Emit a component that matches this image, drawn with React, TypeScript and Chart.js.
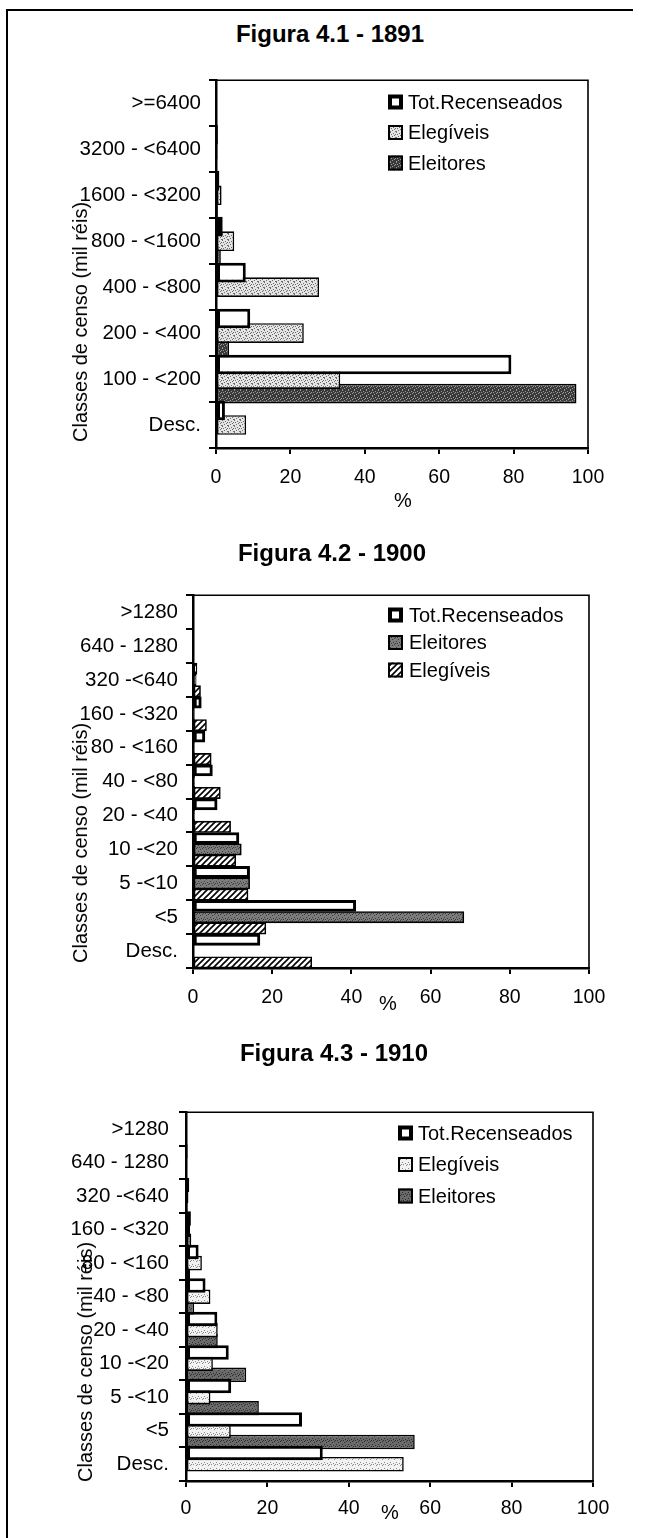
import { useEffect, useRef } from "react";
import { Chart, registerables } from "chart.js";

Chart.register(...registerables);

const FONT = '"Liberation Sans", Arial, Helvetica, sans-serif';

// Percentage axis ticks shared by the three figures
const pctTicks = [0, 20, 40, 60, 80, 100];

// Figura 4.1 - 1891
const classes1891 = [">=6400", "3200 - <6400", "1600 - <3200", "800 - <1600", "400 - <800", "200 - <400", "100 - <200", "Desc."];
const totRecenseados1891 = [0.2, 0.5, 0.9, 1.8, 8.0, 9.2, 79.4, 2.4];
const elegiveis1891 = [0.1, 0.4, 1.5, 4.9, 27.7, 23.6, 33.4, 8.1];
const eleitores1891 = [0, 0, 0.5, 1.3, 0.3, 3.5, 96.9, 0];

// Figura 4.2 - 1900
const classes1900 = [">1280", "640 - 1280", "320 -<640", "160 - <320", "80 - <160", "40 - <80", "20 - <40", "10 -<20", "5 -<10", "<5", "Desc."];
const totRecenseados1900 = [0, 0, 1.0, 2.1, 3.0, 4.9, 6.1, 11.6, 14.3, 41.1, 16.9];
const eleitores1900 = [0, 0, 0.8, 0.2, 0.3, 0.4, 0.4, 12.2, 14.3, 68.4, 0];
const elegiveis1900 = [0, 0, 1.9, 3.4, 4.6, 6.9, 9.5, 10.8, 13.9, 18.4, 30.0];

// Figura 4.3 - 1910
const classes1910 = [">1280", "640 - 1280", "320 -<640", "160 - <320", "80 - <160", "40 - <80", "20 - <40", "10 -<20", "5 -<10", "<5", "Desc."];
const totRecenseados1910 = [0.2, 0.4, 0.8, 1.2, 3.1, 4.8, 7.7, 10.5, 11.1, 28.5, 33.6];
const elegiveis1910 = [0.1, 0.3, 0.6, 1.0, 3.9, 6.0, 7.8, 6.6, 6.0, 11.0, 53.5];
const eleitores1910 = [0, 0.1, 0.4, 1.3, 1.0, 2.0, 7.8, 14.8, 17.9, 56.2, 0];

// ---- fill patterns -------------------------------------------------------
const DOTS: [number, number][] = [
  [0, 0], [3, 1], [1, 2], [5, 2], [4, 3], [2, 4], [0, 5], [5, 5], [3, 0], [1, 4],
];

function stipple(base: string, dot: string, count: number): CanvasPattern | string {
  const c = document.createElement("canvas");
  c.width = 6;
  c.height = 6;
  const g = c.getContext("2d");
  if (!g) return base;
  g.fillStyle = base;
  g.fillRect(0, 0, 6, 6);
  g.fillStyle = dot;
  DOTS.slice(0, count).forEach(([x, y]) => g.fillRect(x, y, 1, 1));
  return g.createPattern(c, "repeat") || base;
}

function hatch(): CanvasPattern | string {
  const s = 6;
  const c = document.createElement("canvas");
  c.width = s;
  c.height = s;
  const g = c.getContext("2d");
  if (!g) return "#aaa";
  g.fillStyle = "#fff";
  g.fillRect(0, 0, s, s);
  g.strokeStyle = "#000";
  g.lineWidth = 1.6;
  g.beginPath();
  g.moveTo(-1, s + 1);
  g.lineTo(s + 1, -1);
  g.moveTo(-1, 1);
  g.lineTo(1, -1);
  g.moveTo(s - 1, s + 1);
  g.lineTo(s + 1, s - 1);
  g.stroke();
  return g.createPattern(c, "repeat") || "#aaa";
}

// ---- plugins -------------------------------------------------------------
const framePlugin = {
  id: "frame",
  afterDraw(chart: any) {
    const { ctx, chartArea: a } = chart;
    ctx.save();
    ctx.strokeStyle = "#000";
    ctx.lineWidth = 1.6;
    ctx.beginPath();
    ctx.moveTo(a.left, a.top);
    ctx.lineTo(a.right, a.top);
    ctx.lineTo(a.right, a.bottom);
    ctx.stroke();
    ctx.restore();
  },
};

const boxLegendPlugin = {
  id: "boxLegend",
  afterDraw(chart: any, _args: any, opts: any) {
    const { ctx } = chart;
    ctx.save();
    ctx.font = `${opts.fontSize}px ${FONT}`;
    ctx.textBaseline = "middle";
    ctx.fillStyle = "#000";
    chart.data.datasets.forEach((ds: any, i: number) => {
      const cy = opts.y + i * opts.row;
      const b = opts.box;
      const x = opts.x;
      ctx.fillStyle = ds.backgroundColor;
      ctx.fillRect(x, cy - b / 2, b, b);
      const lw = ds.legendBorder;
      ctx.lineWidth = lw;
      ctx.strokeStyle = "#000";
      ctx.strokeRect(x + lw / 2, cy - b / 2 + lw / 2, b - lw, b - lw);
      ctx.fillStyle = "#000";
      ctx.fillText(ds.label, x + b + opts.gap, cy + 1);
    });
    ctx.restore();
  },
};

// ---- panel ---------------------------------------------------------------
type Series = { label: string; data: number[]; fill: () => CanvasPattern | string; bw: number; lb: number };

type Panel = {
  title: string;
  titleX: number;
  titleY: number;
  canvasTop: number;
  canvasHeight: number;
  plotLeft: number;
  plotRight: number;
  plotTop: number;
  plotBottom: number;
  labels: string[];
  series: Series[];
  barPct: number;
  catPct: number;
  yPad: number;
  xPad: number;
  legendX: number;
  legendY: number;
  legendRow: number;
  legendGap: number;
  yTitleX: number;
  yTitleY: number;
  pctX: number;
  pctY: number;
};

const W = 647;

const panels: Panel[] = [
  {
    title: "Figura 4.1 - 1891",
    titleX: 330,
    titleY: 34,
    canvasTop: 60,
    canvasHeight: 460,
    plotLeft: 216,
    plotRight: 588,
    plotTop: 80,
    plotBottom: 448,
    labels: classes1891,
    series: [
      { label: "Tot.Recenseados", data: totRecenseados1891, fill: () => "#ffffff", bw: 3, lb: 4 },
      { label: "Elegíveis", data: elegiveis1891, fill: () => stipple("#e4e4e4", "#6e6e6e", 8), bw: 1.6, lb: 2 },
      { label: "Eleitores", data: eleitores1891, fill: () => stipple("#3a3a3a", "#9a9a9a", 7), bw: 1.6, lb: 2 },
    ],
    barPct: 1.35,
    catPct: 0.95,
    yPad: 8,
    xPad: 12,
    legendX: 388,
    legendY: 102,
    legendRow: 30.5,
    legendGap: 5,
    yTitleX: 80,
    yTitleY: 322,
    pctX: 403,
    pctY: 500,
  },
  {
    title: "Figura 4.2 - 1900",
    titleX: 332,
    titleY: 553,
    canvasTop: 575,
    canvasHeight: 460,
    plotLeft: 193,
    plotRight: 589,
    plotTop: 595,
    plotBottom: 968,
    labels: classes1900,
    series: [
      { label: "Tot.Recenseados", data: totRecenseados1900, fill: () => "#ffffff", bw: 3, lb: 4 },
      { label: "Eleitores", data: eleitores1900, fill: () => stipple("#7c7c7c", "#3c3c3c", 6), bw: 1.6, lb: 2 },
      { label: "Elegíveis", data: elegiveis1900, fill: () => hatch(), bw: 1.6, lb: 2 },
    ],
    barPct: 1,
    catPct: 1,
    yPad: 8,
    xPad: 12,
    legendX: 388,
    legendY: 615,
    legendRow: 27.5,
    legendGap: 6,
    yTitleX: 80,
    yTitleY: 843,
    pctX: 388,
    pctY: 1003,
  },
  {
    title: "Figura 4.3 - 1910",
    titleX: 334,
    titleY: 1053,
    canvasTop: 1090,
    canvasHeight: 448,
    plotLeft: 186,
    plotRight: 593,
    plotTop: 1111,
    plotBottom: 1481,
    labels: classes1910,
    series: [
      { label: "Tot.Recenseados", data: totRecenseados1910, fill: () => "#ffffff", bw: 3, lb: 4 },
      { label: "Elegíveis", data: elegiveis1910, fill: () => stipple("#f2f2f2", "#8a8a8a", 5), bw: 1.6, lb: 2 },
      { label: "Eleitores", data: eleitores1910, fill: () => stipple("#6a6a6a", "#2e2e2e", 6), bw: 1.6, lb: 2 },
    ],
    barPct: 1.3,
    catPct: 1,
    yPad: 10,
    xPad: 10,
    legendX: 398,
    legendY: 1133,
    legendRow: 31.5,
    legendGap: 5,
    yTitleX: 85,
    yTitleY: 1362,
    pctX: 390,
    pctY: 1512,
  },
];

function BarPanel({ p }: { p: Panel }) {
  const ref = useRef<HTMLCanvasElement | null>(null);

  useEffect(() => {
    const canvas = ref.current;
    if (!canvas) return;
    const canvasBottom = p.canvasTop + p.canvasHeight;
    const chart = new Chart(canvas, {
      type: "bar",
      data: {
        labels: p.labels,
        datasets: p.series.map((s) => ({
          label: s.label,
          data: s.data,
          backgroundColor: s.fill(),
          borderColor: "#000",
          borderWidth: s.bw,
          borderSkipped: false,
          barPercentage: p.barPct,
          categoryPercentage: p.catPct,
          legendBorder: s.lb,
        })) as any,
      },
      options: {
        indexAxis: "y",
        responsive: false,
        maintainAspectRatio: false,
        animation: false,
        devicePixelRatio: 1,
        layout: {
          padding: { left: 0, top: p.plotTop - p.canvasTop, right: W - p.plotRight, bottom: 0 },
        },
        plugins: {
          legend: { display: false },
          title: { display: false },
          tooltip: { enabled: false },
          boxLegend: {
            x: p.legendX,
            y: p.legendY - p.canvasTop,
            row: p.legendRow,
            box: 15,
            gap: p.legendGap,
            fontSize: 20,
          },
        } as any,
        scales: {
          x: {
            type: "linear",
            min: 0,
            max: 100,
            afterBuildTicks: (s: any) => {
              s.ticks = pctTicks.map((v) => ({ value: v }));
            },
            afterFit: (s: any) => {
              s.height = canvasBottom - p.plotBottom;
            },
            ticks: { font: { family: FONT, size: 19.5 }, color: "#000", padding: p.xPad, maxRotation: 0 },
            grid: { drawOnChartArea: false, drawTicks: true, tickLength: 6, color: "#000", lineWidth: 2 },
            border: { display: true, color: "#000", width: 2.5 },
          },
          y: {
            type: "category",
            afterFit: (s: any) => {
              s.width = p.plotLeft;
            },
            ticks: { font: { family: FONT, size: 20.5 }, color: "#000", padding: p.yPad, autoSkip: false },
            grid: { drawOnChartArea: false, drawTicks: true, tickLength: 7, color: "#000", lineWidth: 2, offset: true },
            border: { display: true, color: "#000", width: 2.5 },
          },
        },
      } as any,
      plugins: [framePlugin, boxLegendPlugin],
    });
    return () => chart.destroy();
  }, [p]);

  return (
    <canvas
      ref={ref}
      width={W}
      height={p.canvasHeight}
      style={{ position: "absolute", left: 0, top: p.canvasTop, width: W, height: p.canvasHeight }}
    />
  );
}

const textBase: React.CSSProperties = {
  position: "absolute",
  fontFamily: FONT,
  color: "#000",
  whiteSpace: "nowrap",
  lineHeight: 1,
};

export default function App() {
  return (
    <div style={{ position: "absolute", left: 0, top: 0, width: W, height: 1538, background: "#fff", overflow: "hidden" }}>
      {/* page frame */}
      <div style={{ position: "absolute", left: 6, top: 9, width: 2, height: 1529, background: "#000" }} />
      <div style={{ position: "absolute", left: 6, top: 9, width: 627, height: 2, background: "#000" }} />
      {panels.map((p) => (
        <div key={p.title}>
          <BarPanel p={p} />
          <div style={{ ...textBase, left: p.titleX, top: p.titleY, fontSize: 24, fontWeight: "bold", transform: "translate(-50%, -50%)" }}>
            {p.title}
          </div>
          <div style={{ ...textBase, left: p.yTitleX, top: p.yTitleY, fontSize: 20, transform: "translate(-50%, -50%) rotate(-90deg)" }}>
            Classes de censo (mil réis)
          </div>
          <div style={{ ...textBase, left: p.pctX, top: p.pctY, fontSize: 20, transform: "translate(-50%, -50%)" }}>%</div>
        </div>
      ))}
    </div>
  );
}
